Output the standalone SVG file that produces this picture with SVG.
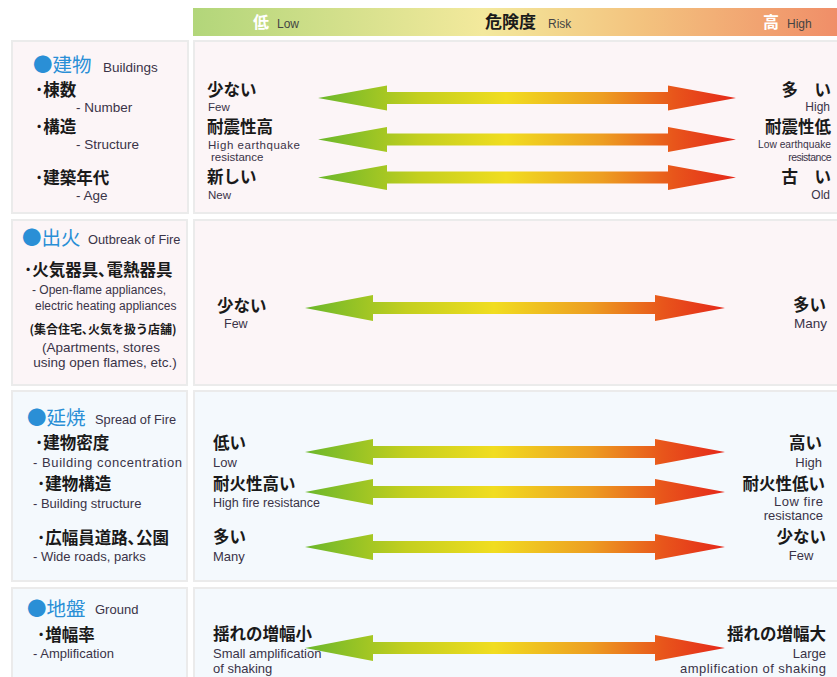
<svg xmlns="http://www.w3.org/2000/svg" width="837" height="677" viewBox="0 0 837 677">
<style>
.jp{font-family:"Noto Sans CJK JP","Noto Sans",sans-serif;font-weight:700;fill:#1a1a1a}
.en{font-family:"Liberation Sans",Arial,sans-serif;fill:#3a3347}
.hd{font-family:"Noto Sans CJK JP",sans-serif;fill:#2a8fd6;font-size:19.5px}
.pink{fill:#fcf5f7;stroke:#ebebeb;stroke-width:2}
.blue{fill:#f4f9fd;stroke:#ebebeb;stroke-width:2}
.end{text-anchor:end}
.mid{text-anchor:middle}
</style>
<defs>
<linearGradient id="hg" x1="0" y1="0" x2="1" y2="0">
<stop offset="0" stop-color="#b2d67a"/>
<stop offset="0.45" stop-color="#f3e99c"/>
<stop offset="0.7" stop-color="#f3c27e"/>
<stop offset="1" stop-color="#f08e68"/>
</linearGradient>
<linearGradient id="ag" x1="0" y1="0" x2="1" y2="0">
<stop offset="0" stop-color="#6ab72b"/>
<stop offset="0.24" stop-color="#c3cf1f"/>
<stop offset="0.45" stop-color="#f1dd20"/>
<stop offset="0.68" stop-color="#ed9e22"/>
<stop offset="0.85" stop-color="#e8561b"/>
<stop offset="1" stop-color="#e5281a"/>
</linearGradient>
<path id="a1" d="M318,0 L387,-12.5 L387,-6 L668,-6 L668,-12.5 L736,0 L668,12.5 L668,6 L387,6 L387,12.5 Z" fill="url(#ag)"/>
<path id="a2" d="M305,0 L373,-13 L373,-6 L655,-6 L655,-13 L725,0 L655,13 L655,6 L373,6 L373,13 Z" fill="url(#ag)"/>
</defs>
<rect width="837" height="677" fill="#ffffff"/>
<g id="header">
<rect x="193" y="8" width="644" height="28" fill="url(#hg)"/>
<text x="253" y="28" class="jp" style="fill:#ffffff;font-size:16px">低</text>
<text x="277" y="28" class="en" font-size="12" style="fill:#444">Low</text>
<text x="485" y="28" class="jp" font-size="17">危険度</text>
<text x="548" y="28" class="en" font-size="12" style="fill:#444">Risk</text>
<text x="763" y="28" class="jp" style="fill:#ffffff;font-size:16px">高</text>
<text x="787" y="28" class="en" font-size="12" style="fill:#444">High</text>
</g>
<g id="panels">
<rect x="12" y="41" width="176" height="172" class="pink"/>
<rect x="194" y="41" width="644" height="172" class="pink"/>
<rect x="12" y="220" width="175" height="165" class="pink"/>
<rect x="194" y="220" width="644" height="165" class="pink"/>
<rect x="12" y="391" width="175" height="190" class="blue"/>
<rect x="194" y="391" width="644" height="190" class="blue"/>
<rect x="12" y="588" width="175" height="95" class="blue"/>
<rect x="194" y="588" width="644" height="95" class="blue"/>
</g>
<g id="connectors">
<use href="#a1" transform="translate(0,98)"/>
<use href="#a1" transform="translate(0,139.5)"/>
<use href="#a1" transform="translate(0,177.5)"/>
<use href="#a2" transform="translate(0,308)"/>
<use href="#a2" transform="translate(0,452)"/>
<use href="#a2" transform="translate(0,492)"/>
<use href="#a2" transform="translate(0,547)"/>
<use href="#a2" transform="translate(0,648)"/>
</g>
<g id="buildings">
<text x="33" y="72" class="hd">●建物</text>
<text x="103" y="72" class="en" font-size="13.5">Buildings</text>
<text x="35" y="96" class="jp" font-size="16.5">･棟数</text>
<text x="76" y="112" class="en" font-size="13.5">- Number</text>
<text x="35" y="133" class="jp" font-size="16.5">･構造</text>
<text x="76" y="149" class="en" font-size="13.5">- Structure</text>
<text x="35" y="184" class="jp" font-size="16.5">･建築年代</text>
<text x="76" y="200" class="en" font-size="13.5">- Age</text>
<text x="207" y="96" class="jp" font-size="16.5">少ない</text>
<text x="208" y="111" class="en" font-size="11.5">Few</text>
<text x="207" y="133" class="jp" font-size="16.5">耐震性高</text>
<text x="208" y="148.5" class="en" font-size="11.5" textLength="92">High earthquake</text>
<text x="211" y="161" class="en" font-size="11.5">resistance</text>
<text x="207" y="183" class="jp" font-size="16.5">新しい</text>
<text x="208" y="199" class="en" font-size="11.5">New</text>
<text x="831" y="96" class="jp end" font-size="16.5">多　い</text>
<text x="830" y="111" class="en end" font-size="12">High</text>
<text x="831" y="133" class="jp end" font-size="16.5">耐震性低</text>
<text x="831" y="148" class="en end" font-size="10.5" textLength="73" lengthAdjust="spacingAndGlyphs">Low earthquake</text>
<text x="831" y="161" class="en end" font-size="10.5" letter-spacing="-0.5">resistance</text>
<text x="831" y="183" class="jp end" font-size="16.5">古　い</text>
<text x="830" y="199" class="en end" font-size="12">Old</text>
</g>
<g id="outbreak">
<text x="22" y="245" class="hd">●出火</text>
<text x="88" y="244" class="en" font-size="12.8">Outbreak of Fire</text>
<text x="24" y="276" class="jp" font-size="16.5">･火気器具､電熱器具</text>
<text x="32" y="294" class="en" font-size="12">- Open-flame appliances,</text>
<text x="35" y="310" class="en" font-size="12">electric heating appliances</text>
<text x="103" y="334" class="jp mid" font-size="12">(集合住宅､火気を扱う店舗)</text>
<text x="101" y="352" class="en mid" font-size="13.5">(Apartments, stores</text>
<text x="105" y="367" class="en mid" font-size="13.5">using open flames, etc.)</text>
<text x="217" y="312" class="jp" font-size="16.5">少ない</text>
<text x="224" y="328" class="en" font-size="12.5">Few</text>
<text x="826" y="311" class="jp end" font-size="16.5">多い</text>
<text x="827" y="328" class="en end" font-size="13.5">Many</text>
</g>
<g id="spread">
<text x="27" y="425" class="hd">●延焼</text>
<text x="95" y="424" class="en" font-size="12.8">Spread of Fire</text>
<text x="35" y="449" class="jp" font-size="16.5">･建物密度</text>
<text x="33" y="467" class="en" font-size="13" textLength="149">- Building concentration</text>
<text x="37" y="490" class="jp" font-size="16.5">･建物構造</text>
<text x="33" y="508" class="en" font-size="13">- Building structure</text>
<text x="37" y="544" class="jp" font-size="16.5">･広幅員道路､公園</text>
<text x="33" y="561" class="en" font-size="13">- Wide roads, parks</text>
<text x="213" y="449" class="jp" font-size="16.5">低い</text>
<text x="213" y="467" class="en" font-size="13">Low</text>
<text x="213" y="490" class="jp" font-size="16.5">耐火性高い</text>
<text x="213" y="507" class="en" font-size="12.5">High fire resistance</text>
<text x="213" y="543" class="jp" font-size="16.5">多い</text>
<text x="213" y="561" class="en" font-size="13">Many</text>
<text x="822" y="449" class="jp end" font-size="16.5">高い</text>
<text x="822" y="467" class="en end" font-size="13">High</text>
<text x="825" y="490" class="jp end" font-size="16.5">耐火性低い</text>
<text x="823" y="505.5" class="en end" font-size="13" textLength="49">Low fire</text>
<text x="823" y="520" class="en end" font-size="13">resistance</text>
<text x="826" y="543" class="jp end" font-size="16.5">少ない</text>
<text x="801" y="560" class="en mid" font-size="13">Few</text>
</g>
<g id="ground">
<text x="27" y="616" class="hd">●地盤</text>
<text x="95" y="614" class="en" font-size="13">Ground</text>
<text x="37" y="641" class="jp" font-size="16.5">･増幅率</text>
<text x="33" y="658" class="en" font-size="13">- Amplification</text>
<text x="213" y="640" class="jp" font-size="16.5">揺れの増幅小</text>
<text x="213" y="658" class="en" font-size="13">Small amplification</text>
<text x="213" y="673" class="en" font-size="13">of shaking</text>
<text x="826" y="640" class="jp end" font-size="16.5">揺れの増幅大</text>
<text x="826" y="658" class="en end" font-size="13">Large</text>
<text x="826" y="673" class="en end" font-size="13" textLength="146">amplification of shaking</text>
</g>
</svg>
